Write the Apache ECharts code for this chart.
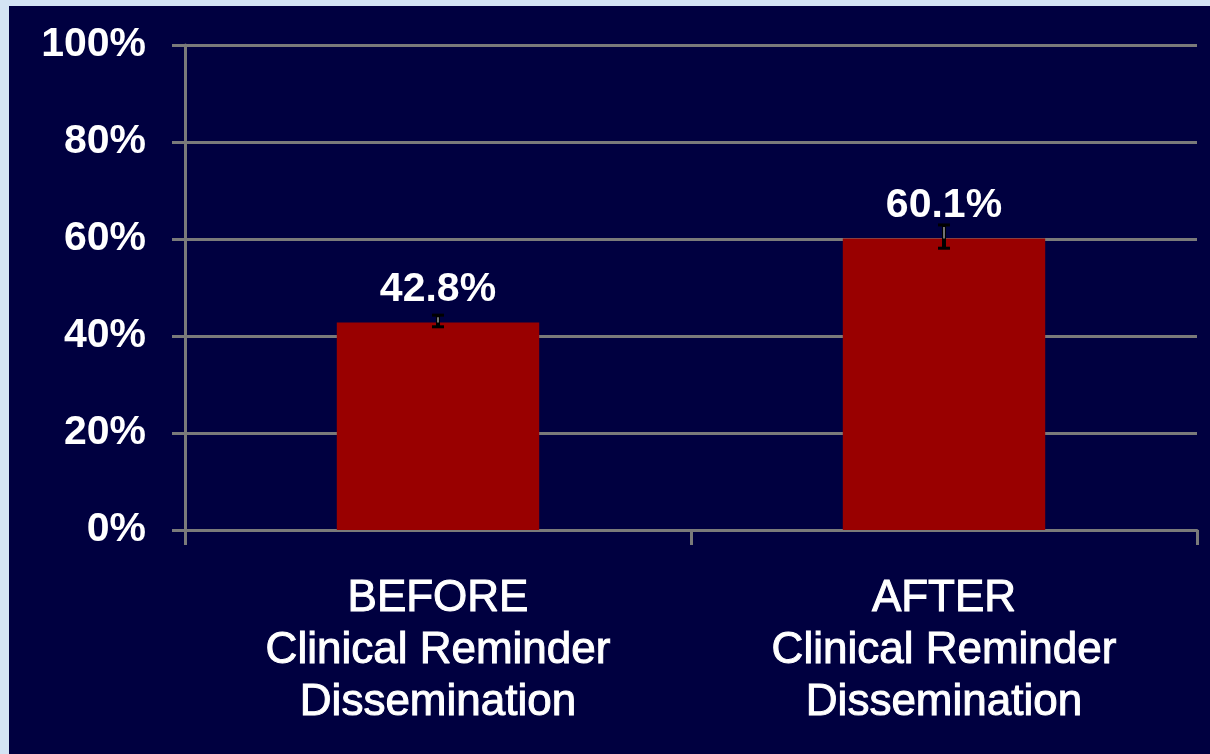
<!DOCTYPE html>
<html>
<head>
<meta charset="utf-8">
<script src="https://cdn.jsdelivr.net/npm/echarts@6/dist/echarts.min.js"></script>
<style>
html,body{margin:0;padding:0;width:1210px;height:754px;overflow:hidden;background:#d4e4f4;}
#c{position:absolute;left:9px;top:6px;width:1201px;height:748px;background:#000040;}
</style>
</head>
<body>
<div id="c"></div>
<script>
const categories = ['BEFORE\nClinical Reminder\nDissemination', 'AFTER\nClinical Reminder\nDissemination'];
const values = [42.8, 60.1];
const labels = ['42.8%', '60.1%'];
const errLow = [41.9, 58.1];
const errHigh = [44.3, 62.9];
const yTicks = [0, 20, 40, 60, 80, 100];

const FONT = '"Liberation Sans", Arial, sans-serif';
const GRAY = '#7a7a7a';

const chart = echarts.init(document.getElementById('c'));
chart.setOption({
  backgroundColor: '#000040',
  animation: false,
  grid: { left: 176, right: 13, top: 39, bottom: 224 },
  xAxis: {
    type: 'category',
    data: categories,
    axisLine: { lineStyle: { color: GRAY, width: 3 } },
    axisTick: { show: true, length: 15, lineStyle: { color: GRAY, width: 3 } },
    axisLabel: {
      color: '#ffffff', fontFamily: FONT, fontSize: 44, lineHeight: 52,
      margin: 43, interval: 0,
      textBorderColor: '#ffffff', textBorderWidth: 1
    }
  },
  yAxis: {
    type: 'value',
    min: yTicks[0], max: yTicks[yTicks.length - 1], interval: 20,
    axisLine: { show: true, lineStyle: { color: GRAY, width: 3 } },
    axisTick: { show: true, length: 13, lineStyle: { color: GRAY, width: 3 } },
    splitLine: { lineStyle: { color: GRAY, width: 3 } },
    axisLabel: {
      color: '#ffffff', fontFamily: FONT, fontSize: 41, fontWeight: 'bold',
      margin: 39, formatter: '{value}%'
    }
  },
  series: [
    {
      type: 'bar',
      data: values,
      barWidth: '40%',
      itemStyle: { color: '#990000' },
      label: {
        show: true, position: 'top', distance: 12,
        color: '#ffffff', fontFamily: FONT, fontSize: 41, fontWeight: 'bold',
        formatter: p => labels[p.dataIndex]
      },
      z: 2
    },
    {
      type: 'custom',
      data: values.map((v, i) => [i, v, errLow[i], errHigh[i]]),
      renderItem: function (params, api) {
        const i = api.value(0);
        const top = api.coord([i, api.value(3)]);
        const bot = api.coord([i, api.value(2)]);
        const mid = api.coord([i, api.value(1)]);
        const hw = 6;
        return {
          type: 'group',
          children: [
            { type: 'line', shape: { x1: top[0], y1: top[1], x2: bot[0], y2: bot[1] }, style: { stroke: '#000000', lineWidth: 4 } },
            { type: 'line', shape: { x1: top[0], y1: top[1] + 2, x2: mid[0], y2: mid[1] }, style: { stroke: '#9a9a9a', lineWidth: 1.5 } },
            { type: 'line', shape: { x1: top[0] - hw, y1: top[1], x2: top[0] + hw, y2: top[1] }, style: { stroke: '#000000', lineWidth: 3 } },
            { type: 'line', shape: { x1: bot[0] - hw, y1: bot[1], x2: bot[0] + hw, y2: bot[1] }, style: { stroke: '#000000', lineWidth: 3 } }
          ]
        };
      },
      z: 3
    }
  ]
});
</script>
</body>
</html>
